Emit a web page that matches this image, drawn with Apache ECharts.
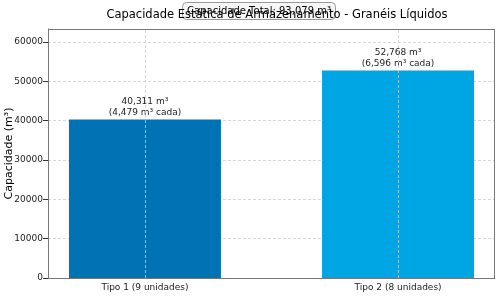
<!DOCTYPE html>
<html>
<head>
<meta charset="UTF-8">
<script src="https://cdn.jsdelivr.net/npm/echarts@6/dist/echarts.min.js"></script>
<style>body{margin:0}#main{width:500px;height:296px}</style>
</head>
<body>
<div id="main"></div>
<script>
const categorias = ['Tipo 1 (9 unidades)', 'Tipo 2 (8 unidades)'];
const capacidades = [40311, 52768];
const porUnidade = [4479, 6596];
const cores = ['#0173b4', '#00a5e3'];

const total = capacidades.reduce((a, b) => a + b, 0);
const yMax = Math.max(...capacidades) * 1.2;
const fmt = v => v.toLocaleString('en-US');
const font = 'DejaVu Sans';

const chart = echarts.init(document.getElementById('main'));
chart.setOption({
  animation: false,
  textStyle: {fontFamily: font},
  title: [
    {text: 'Capacidade Estática de Armazenamento - Granéis Líquidos', left: 272, textAlign: 'center', top: 4,
     textStyle: {fontFamily: font, fontSize: 11.5, fontWeight: 'normal', color: '#000'}},
    {text: 'Capacidade Total: ' + fmt(total) + ' m³', left: 254, textAlign: 'center', top: 2,
     backgroundColor: 'rgba(245,245,245,0.9)', borderColor: '#999', borderWidth: 1, borderRadius: 4,
     padding: [4, 5, 4, 5],
     textStyle: {fontFamily: font, fontSize: 10, fontWeight: 'normal', color: '#000'}}
  ],
  grid: {left: 48, right: 5, top: 29, bottom: 18, outerBoundsMode: 'none', containLabel: false},
  xAxis: {
    type: 'value', min: -0.383, max: 1.383,
    axisLine: {show: true, onZero: false, lineStyle: {color: '#777', width: 1}},
    axisTick: {show: false},
    axisLabel: {customValues: [0, 1], formatter: v => categorias[Math.round(v)] || '',
                fontSize: 9, color: '#222', margin: 5},
    splitLine: {show: false}
  },
  yAxis: {
    type: 'value', min: 0, max: yMax, interval: 10000,
    name: 'Capacidade (m³)', nameLocation: 'middle', nameGap: 33, nameMoveOverlap: false,
    nameTextStyle: {fontSize: 11, color: '#000'},
    axisLine: {show: true, onZero: false, lineStyle: {color: '#777'}},
    axisTick: {show: true, lineStyle: {color: '#333'}},
    axisLabel: {fontSize: 9, color: '#222', margin: 5, showMaxLabel: false, formatter: v => String(v)},
    splitLine: {show: true, showMaxLine: false, lineStyle: {color: '#ccc', type: [3, 2], width: 0.8}}
  },
  series: [
    {
      type: 'bar', barWidth: 152,
      data: capacidades.map((v, i) => ({value: [i, v], itemStyle: {color: cores[i]}})),
      label: {
        show: true, position: 'top', distance: 1, fontSize: 9, color: '#222', lineHeight: 11,
        formatter: p => fmt(capacidades[p.dataIndex]) + ' m³\n(' + fmt(porUnidade[p.dataIndex]) + ' m³ cada)'
      },
      markLine: {
        silent: true, symbol: 'none', label: {show: false},
        lineStyle: {color: '#ccc', type: [3, 2], width: 0.8},
        data: [{xAxis: 0}, {xAxis: 1}]
      },
      z: 2
    },
    {
      type: 'line', data: [],
      markLine: {
        silent: true, symbol: 'none', label: {show: false},
        lineStyle: {color: '#777', type: 'solid', width: 1},
        data: [{yAxis: yMax}, {xAxis: 1.383}]
      }
    }
  ]
});
</script>
</body>
</html>
